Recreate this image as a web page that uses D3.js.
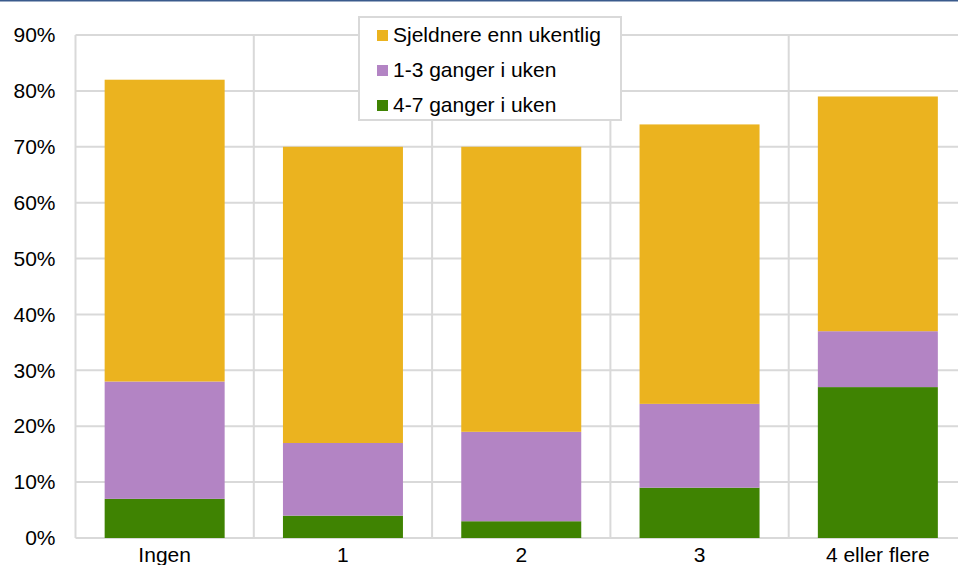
<!DOCTYPE html>
<html>
<head>
<meta charset="utf-8">
<script src="https://cdn.jsdelivr.net/npm/d3@7"></script>
<style>
    body { margin: 0; background: #fff; }
    svg { display: block; font-family: "Liberation Sans", Arial, sans-serif; }
</style>
</head>
<body>
<div class="chartdiv"></div>
<script>
// data
const categories = ['Ingen', '1', '2', '3', '4 eller flere']
const seriesNames = ['4-7 ganger i uken', '1-3 ganger i uken', 'Sjeldnere enn ukentlig']
const weekly47 = [7, 4, 3, 9, 27]
const weekly13 = [21, 13, 16, 15, 10]
const rarer = [54, 53, 51, 50, 42]
const yTicks = [0, 10, 20, 30, 40, 50, 60, 70, 80, 90]
const colors = ['#3f8302', '#b384c4', '#ebb31f']

const w = 958, h = 565
const plotLeft = 75.5, plotRight = plotLeft + 5 * 178.3, plotTop = 35, plotBottom = 538
const fontSize = 21

let rows = categories.map((c, i) => ({
    cat: c,
    [seriesNames[0]]: weekly47[i],
    [seriesNames[1]]: weekly13[i],
    [seriesNames[2]]: rarer[i]
}))
let stacked = d3.stack().keys(seriesNames)(rows)

let svg = d3.select('.chartdiv').append('svg')
    .attr('width', w)
    .attr('height', h)

// blue rule at the top
svg.append('rect').attr('x', 0).attr('y', 0).attr('width', w).attr('height', 1.5).attr('fill', '#3a5a8c')

let xScale = d3.scaleBand().domain(categories).range([plotLeft, plotRight]).paddingInner(0).paddingOuter(0)
let yScale = d3.scaleLinear().domain([0, 90]).range([plotBottom, plotTop])

// grid
let grid = svg.append('g').attr('stroke', '#d9d9d9').attr('stroke-width', 2)
grid.selectAll('line.h').data(yTicks).enter().append('line')
    .attr('x1', plotLeft).attr('x2', plotRight)
    .attr('y1', d => yScale(d)).attr('y2', d => yScale(d))
let vlines = categories.map(c => xScale(c)).concat([plotRight])
grid.selectAll('line.v').data(vlines).enter().append('line')
    .attr('x1', d => d).attr('x2', d => d)
    .attr('y1', plotTop).attr('y2', plotBottom)

// bars
let barW = xScale.bandwidth() * 0.673
svg.append('g').selectAll('g').data(stacked).enter().append('g')
    .attr('fill', (d, i) => colors[i])
    .selectAll('rect').data(d => d).enter().append('rect')
    .attr('x', d => xScale(d.data.cat) + (xScale.bandwidth() - barW) / 2)
    .attr('width', barW)
    .attr('y', d => yScale(d[1]))
    .attr('height', d => yScale(d[0]) - yScale(d[1]))

// y axis labels
let yAxis = d3.axisLeft(yScale).tickValues(yTicks).tickFormat(d => d + '%').tickSize(0).tickPadding(20)
let gy = svg.append('g').attr('transform', 'translate(' + plotLeft + ',0)').call(yAxis)
gy.select('.domain').remove()
gy.selectAll('text').attr('font-size', fontSize).attr('fill', '#000').attr('font-family', 'Liberation Sans, Arial, sans-serif')

// x axis labels
let xAxis = d3.axisBottom(xScale).tickSize(0).tickPadding(9)
let gx = svg.append('g').attr('transform', 'translate(0,' + plotBottom + ')').call(xAxis)
gx.select('.domain').remove()
gx.selectAll('text').attr('font-size', fontSize).attr('fill', '#000').attr('font-family', 'Liberation Sans, Arial, sans-serif')

// legend
let lg = svg.append('g').attr('transform', 'translate(359,17)')
lg.append('rect').attr('width', 262).attr('height', 103)
    .attr('fill', '#fff').attr('stroke', '#d9d9d9').attr('stroke-width', 2)
let legendOrder = [2, 1, 0]
legendOrder.forEach((s, k) => {
    let yy = 18 + k * 35
    lg.append('rect').attr('x', 18).attr('y', yy - 5).attr('width', 11).attr('height', 11).attr('fill', colors[s])
    lg.append('text').attr('x', 34).attr('y', yy).attr('dy', '0.35em')
        .attr('font-size', fontSize).text(seriesNames[s])
})
</script>
</body>
</html>
